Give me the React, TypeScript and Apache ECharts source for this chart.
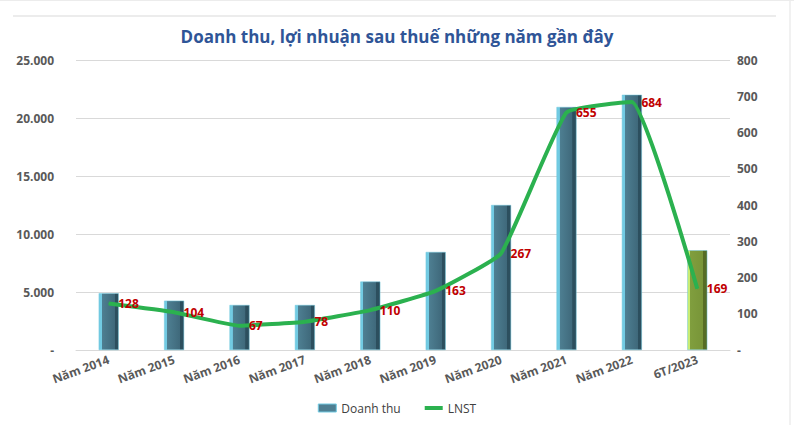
import React, { useEffect, useRef } from "react";
import * as echarts from "echarts";

const categories = ["Năm 2014", "Năm 2015", "Năm 2016", "Năm 2017", "Năm 2018", "Năm 2019", "Năm 2020", "Năm 2021", "Năm 2022", "6T/2023"];
const revenue = [4900, 4250, 3880, 3880, 5900, 8450, 12500, 20950, 22000, 8600];
const profit = [128, 104, 67, 78, 110, 163, 267, 655, 684, 169];
const title = "Doanh thu, lợi nhuận sau thuế những năm gần đây";
const seriesNames = ["Doanh thu", "LNST"];

const blueGrad = new echarts.graphic.LinearGradient(0, 0, 1, 0, [
  { offset: 0, color: "#72cbe3" },
  { offset: 0.14, color: "#72cbe3" },
  { offset: 0.15, color: "#4e7f92" },
  { offset: 0.8, color: "#3f697b" },
  { offset: 0.81, color: "#2c4f5e" },
  { offset: 1, color: "#2c4f5e" },
]);
const greenGrad = new echarts.graphic.LinearGradient(0, 0, 1, 0, [
  { offset: 0, color: "#c9ec72" },
  { offset: 0.14, color: "#c9ec72" },
  { offset: 0.15, color: "#809e3e" },
  { offset: 0.8, color: "#789538" },
  { offset: 0.81, color: "#566d25" },
  { offset: 1, color: "#566d25" },
]);

function fmtThousands(v: number) {
  if (v === 0) return "-";
  return String(v).replace(/\B(?=(\d{3})+(?!\d))/g, ".");
}

export default function App() {
  const ref = useRef<HTMLDivElement>(null);
  useEffect(() => {
    if (!ref.current) return;
    const chart = echarts.init(ref.current, undefined, { renderer: "svg" });
    const font = "'Open Sans', 'Noto Sans', sans-serif";
    chart.setOption({
      animation: false,
      backgroundColor: "#ffffff",
      textStyle: { fontFamily: font },
      title: {
        text: title,
        left: "center",
        top: 23,
        textStyle: { color: "#2f5597", fontSize: 17, fontWeight: "bold", fontFamily: font },
      },
      graphic: [
        { type: "line", shape: { x1: 13, y1: 16, x2: 776, y2: 16 }, style: { stroke: "#d9d9d9", lineWidth: 1 } },
        { type: "line", shape: { x1: 790, y1: 0, x2: 790, y2: 425 }, style: { stroke: "#e3e3e3", lineWidth: 1 } },
        { type: "line", shape: { x1: 0, y1: 0.5, x2: 794, y2: 0.5 }, style: { stroke: "#ececec", lineWidth: 1 } },
      ],
      legend: {
        bottom: 6,
        left: "center",
        itemGap: 24,
        itemWidth: 18,
        itemHeight: 8,
        textStyle: { color: "#404040", fontSize: 12, fontFamily: font },
        data: [
          { name: seriesNames[0], icon: "rect", itemStyle: { color: "#4e7f92", borderColor: "#72cbe3", borderWidth: 1 } },
          { name: seriesNames[1], icon: "path://M0,0 L18,0 L18,4 L0,4 Z", itemStyle: { color: "#2bb14f" } },
        ],
      },
      grid: { left: 76, right: 64, top: 60, bottom: 75 },
      xAxis: {
        type: "category",
        data: categories,
        axisLine: { lineStyle: { color: "#d9d9d9" } },
        axisTick: { show: false },
        axisLabel: { rotate: 20, color: "#595959", fontWeight: "bold", fontSize: 12, margin: 9, interval: 0 },
      },
      yAxis: [
        {
          type: "value",
          min: 0,
          max: 25000,
          interval: 5000,
          axisLine: { show: false },
          axisTick: { show: false },
          splitLine: { lineStyle: { color: "#d9d9d9" } },
          axisLabel: { formatter: fmtThousands, color: "#595959", fontWeight: "bold", fontSize: 12, margin: 22 },
        },
        {
          type: "value",
          min: 0,
          max: 800,
          interval: 100,
          axisLine: { show: false },
          axisTick: { show: false },
          splitLine: { show: false },
          axisLabel: { formatter: (v: number) => (v === 0 ? "-" : String(v)), color: "#595959", fontWeight: "bold", fontSize: 12, margin: 7 },
        },
      ],
      series: [
        {
          name: seriesNames[0],
          type: "bar",
          yAxisIndex: 0,
          barWidth: 20,
          data: revenue.map((v, i) =>
            i === revenue.length - 1
              ? { value: v, itemStyle: { color: greenGrad, borderColor: "#6fc7dc", borderWidth: 0.5 } }
              : { value: v, itemStyle: { color: blueGrad, borderColor: "#6fc7dc", borderWidth: 0.5 } }
          ),
          itemStyle: { color: blueGrad },
        },
        {
          name: seriesNames[1],
          type: "line",
          yAxisIndex: 1,
          smooth: 0.12,
          symbol: "circle",
          symbolSize: 1,
          itemStyle: { color: "#2bb14f" },
          lineStyle: { color: "#2bb14f", width: 4 },
          z: 5,
          label: {
            show: true,
            position: "right",
            distance: 9,
            color: "#c00000",
            fontWeight: "bold",
            fontSize: 12,
            fontFamily: font,
          },
          data: profit,
        },
      ],
    });
    return () => chart.dispose();
  }, []);
  return <div ref={ref} style={{ position: "fixed", left: 0, top: 0, width: 794, height: 425 }} />;
}
